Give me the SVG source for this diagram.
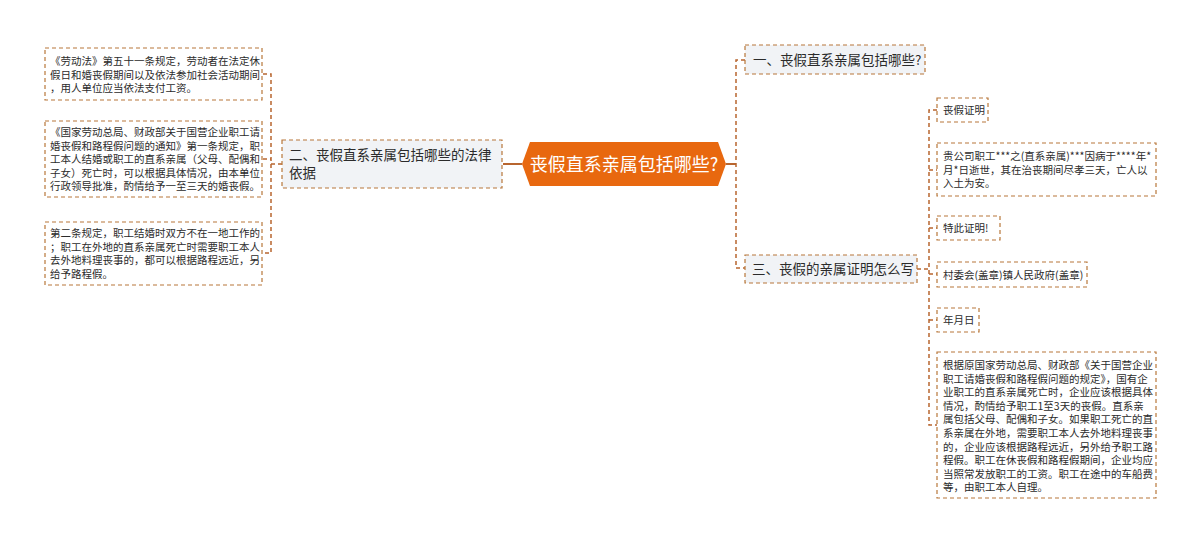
<svg xmlns="http://www.w3.org/2000/svg" width="1200" height="543" viewBox="0 0 1200 543">
<style>
.bg{fill:#ffffff}
.l1{fill:#F1F3F6;stroke:#B8773A;stroke-width:1.2;stroke-dasharray:4 3}
.lf{fill:#ffffff;stroke:#B8773A;stroke-width:1.2;stroke-dasharray:4 3}
.cn{fill:none;stroke:#B8652F;stroke-width:1.5;stroke-dasharray:4 3}
.cs{fill:none;stroke:#B8652F;stroke-width:2}
text{font-family:"Noto Sans CJK SC","Microsoft YaHei",sans-serif;fill:#2b2b2b}
.t1{font-size:13.5px}
.t2{font-size:10.5px}
.tc{font-size:18px;fill:#ffffff}
</style>
<rect class="bg" x="0" y="0" width="1200" height="543"/>
<g id="connectors">
<path class="cs" d="M503,164 H522"/>
<path class="cs" d="M726,164 H736"/>
<path class="cn" d="M745,60 H736 V268 H745"/>
<path class="cn" d="M282,164 H271"/>
<path class="cn" d="M263,74 H271 V253 H263 M263,159 H271"/>
<path class="cn" d="M917,269 H929"/>
<path class="cn" d="M937,110 H929 V425 H937 M929,170 H937 M929,228 H937 M929,274 H937 M929,320 H937"/>
</g>
<g id="center">
<polygon points="522,164 530,142 718,142 726,164 718,186 530,186" fill="#E8680F"/>
<text class="tc" x="624" y="170.5" text-anchor="middle">丧假直系亲属包括哪些?</text>
</g>
<g id="n2">
<rect class="l1" x="282" y="140" width="220" height="48"/>
<text class="t1" x="289" y="160">二、丧假直系亲属包括哪些的法律</text>
<text class="t1" x="289" y="178">依据</text>
</g>
<g id="n1">
<rect class="l1" x="745" y="45" width="180" height="29"/>
<text class="t1" x="753" y="64.5">一、丧假直系亲属包括哪些?</text>
</g>
<g id="n3">
<rect class="l1" x="745" y="255" width="172" height="28"/>
<text class="t1" x="752" y="274">三、丧假的亲属证明怎么写</text>
</g>
<g id="l1">
<rect class="lf" x="45" y="48" width="217" height="52"/>
<text class="t2"><tspan x="50" y="65">《劳动法》第五十一条规定，劳动者在法定休</tspan><tspan x="50" y="78.6">假日和婚丧假期间以及依法参加社会活动期间</tspan><tspan x="50" y="92.2">，用人单位应当依法支付工资。</tspan></text>
</g>
<g id="l2">
<rect class="lf" x="45" y="121" width="217" height="76"/>
<text class="t2"><tspan x="50" y="136">《国家劳动总局、财政部关于国营企业职工请</tspan><tspan x="50" y="149.6">婚丧假和路程假问题的通知》第一条规定，职</tspan><tspan x="50" y="163.2">工本人结婚或职工的直系亲属（父母、配偶和</tspan><tspan x="50" y="176.8">子女）死亡时，可以根据具体情况，由本单位</tspan><tspan x="50" y="190.4">行政领导批准，酌情给予一至三天的婚丧假。</tspan></text>
</g>
<g id="l3">
<rect class="lf" x="45" y="222" width="217" height="63"/>
<text class="t2"><tspan x="50" y="237">第二条规定，职工结婚时双方不在一地工作的</tspan><tspan x="50" y="250.6">；职工在外地的直系亲属死亡时需要职工本人</tspan><tspan x="50" y="264.2">去外地料理丧事的，都可以根据路程远近，另</tspan><tspan x="50" y="277.8">给予路程假。</tspan></text>
</g>
<g id="r1">
<rect class="lf" x="937" y="98" width="51" height="24"/>
<text class="t2" x="943" y="114">丧假证明</text>
</g>
<g id="r2">
<rect class="lf" x="937" y="143" width="219" height="53"/>
<text class="t2"><tspan x="943" y="160">贵公司职工***之(直系亲属)***因病于****年*</tspan><tspan x="943" y="173.6">月*日逝世，其在治丧期间尽孝三天，亡人以</tspan><tspan x="943" y="187.2">入土为安。</tspan></text>
</g>
<g id="r3">
<rect class="lf" x="937" y="216" width="63" height="24"/>
<text class="t2" x="943" y="232">特此证明!</text>
</g>
<g id="r4">
<rect class="lf" x="937" y="262" width="150" height="25"/>
<text class="t2" x="943" y="278.5">村委会(盖章)镇人民政府(盖章)</text>
</g>
<g id="r5">
<rect class="lf" x="937" y="308" width="42" height="24"/>
<text class="t2" x="943" y="324">年月日</text>
</g>
<g id="r6">
<rect class="lf" x="937" y="352" width="219" height="146"/>
<text class="t2"><tspan x="943" y="369">根据原国家劳动总局、财政部《关于国营企业</tspan><tspan x="943" y="382.6">职工请婚丧假和路程假问题的规定》，国有企</tspan><tspan x="943" y="396.2">业职工的直系亲属死亡时，企业应该根据具体</tspan><tspan x="943" y="409.8">情况，酌情给予职工1至3天的丧假。直系亲</tspan><tspan x="943" y="423.4">属包括父母、配偶和子女。如果职工死亡的直</tspan><tspan x="943" y="437">系亲属在外地，需要职工本人去外地料理丧事</tspan><tspan x="943" y="450.6">的，企业应该根据路程远近，另外给予职工路</tspan><tspan x="943" y="464.2">程假。职工在休丧假和路程假期间，企业均应</tspan><tspan x="943" y="477.8">当照常发放职工的工资。职工在途中的车船费</tspan><tspan x="943" y="491.4">等，由职工本人自理。</tspan></text>
</g>
</svg>
